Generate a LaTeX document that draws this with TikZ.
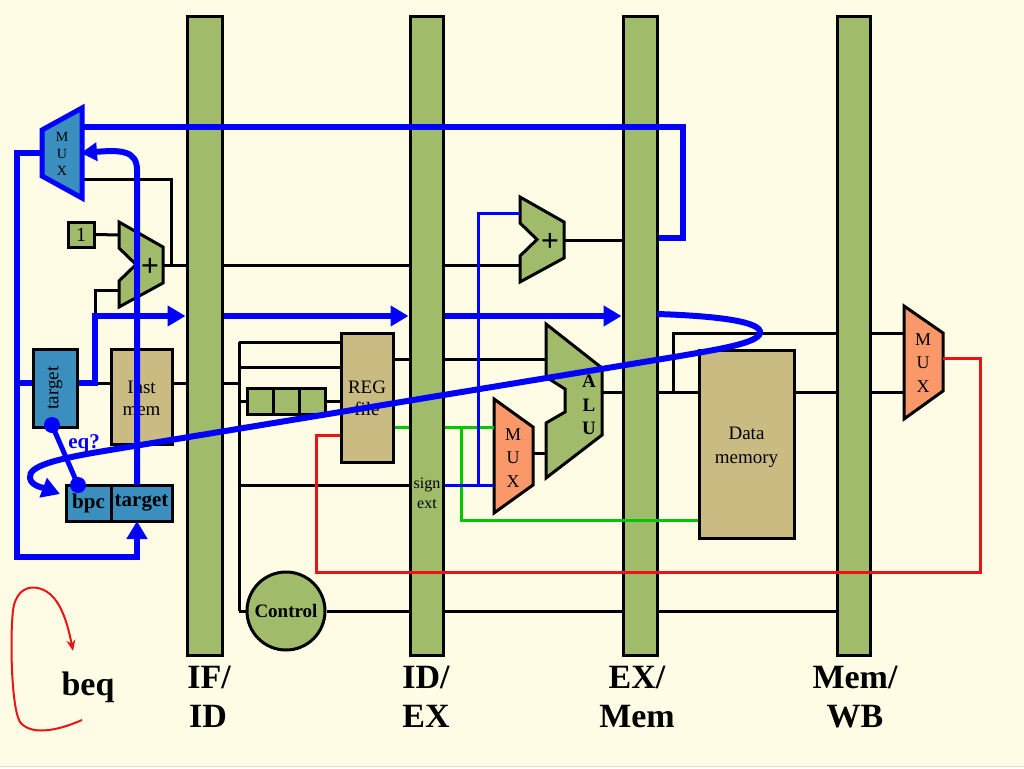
\documentclass[tikz,border=0pt]{standalone}
\usepackage{fontspec}
\setmainfont{Liberation Serif}
\usetikzlibrary{arrows.meta,calc}
\definecolor{bgc}{RGB}{255,252,230}
\definecolor{bargreen}{RGB}{160,187,106}
\definecolor{tanc}{RGB}{201,187,130}
\definecolor{boxblue}{RGB}{58,143,190}
\definecolor{orangec}{RGB}{250,152,105}
\definecolor{wgreen}{RGB}{0,200,0}
\definecolor{wred}{RGB}{235,20,20}
\definecolor{wblue}{RGB}{0,0,255}
\newcommand\myfs[2]{\fontsize{#1}{#2}\selectfont}
\begin{document}
\begin{tikzpicture}[x=1pt,y=-1pt,
  wire/.style={draw=black,line width=3pt},
  bthick/.style={draw=wblue,line width=6pt},
  bthin/.style={draw=wblue,line width=3pt},
  gwire/.style={draw=wgreen,line width=3pt},
  rwire/.style={draw=wred,line width=3pt},
  regbar/.style={draw=black,line width=3pt,fill=bargreen,minimum height=638pt,inner sep=0pt},
  blk/.style={draw=black,line width=3pt,inner sep=0pt},
  parr/.style={-{Triangle[length=18pt,width=20pt]}},
  unit/.style={draw=black,line width=3pt,line join=miter},
  lbl/.style={font=\bfseries\myfs{34}{38},anchor=base},
  txt/.style={font=\myfs{19}{22},align=center},
  muxt/.style={font=\myfs{18}{23.5},align=center},
  plus/.style={font=\bfseries\myfs{32}{32}},
  dotc/.style={circle,fill=wblue,minimum size=16pt,inner sep=0pt}]
\path[use as bounding box,fill=bgc] (0,0) rectangle (1024,768);
\draw[draw=black!12,line width=1pt] (0,766.5) -- (1024,766.5);

% ---------- ports and junctions ----------
\coordinate (a1in1) at (119,235);
\coordinate (a1in2) at (119,290);
\coordinate (a1out) at (163,265);
\coordinate (a2in1) at (520,213);
\coordinate (a2in2) at (520,265);
\coordinate (a2out) at (564,240);
\coordinate (aluin1) at (546,359);
\coordinate (aluin2) at (546,453);
\coordinate (aluout) at (602,392);
\coordinate (emin1) at (494,427);
\coordinate (emin2) at (494,485);
\coordinate (emout) at (533,453);
\coordinate (wbin1) at (904,333);
\coordinate (wbin2) at (904,392);
\coordinate (wbout) at (943,358);
\coordinate (tmin1) at (82,127);
\coordinate (tmin2) at (81,153);
\coordinate (tmin3) at (82,179);
\coordinate (tmout) at (42,153);
\coordinate (pc) at (95,383);
\coordinate (pcup) at (95,316);
\coordinate (pcadd) at (95,290);
\coordinate (j1) at (171,265);
\coordinate (j1t) at (171,179);
\coordinate (bus) at (239,383);
\coordinate (bt) at (239,342);
\coordinate (b2) at (239,367);
\coordinate (b3) at (239,401);
\coordinate (b4) at (239,485);
\coordinate (bb) at (239,611);
\coordinate (byp) at (673,392);
\coordinate (byt) at (673,333);
\coordinate (g1) at (461,427);
\coordinate (g2) at (461,520);
\coordinate (bj) at (478,485);
\coordinate (bj2) at (478,213);
\coordinate (r1) at (980,358);
\coordinate (r2) at (980,572);
\coordinate (r3) at (316,572);
\coordinate (r4) at (316,435);
\coordinate (lp1) at (683,238);
\coordinate (lp2) at (683,127);
\coordinate (lb1) at (17,153);
\coordinate (lb2) at (17,557);
\coordinate (lb3) at (137,557);
\coordinate (lb4) at (17,383);
\coordinate (tgbot) at (137,521);
\coordinate (tgtop) at (137,485);
\coordinate (fc1) at (137,170);
\coordinate (cv0) at (657,314);
\coordinate (bpcarr) at (60,494);
\coordinate (be1) at (82,720);
\coordinate (be2) at (73,651);

% ---------- black wires ----------
\draw[wire] (pcup) -- (pcadd) -- (a1in2);
\draw[wire] (a1out) -- (a1out -| 187,0);
\draw[wire] (j1) -- (j1t) -- (tmin3);
\draw[wire] (bt) -- (bb);
\draw[wire] (bb) -- (247,611);

% ---------- pipeline registers ----------
\node[regbar,minimum width=35pt] (ifid) at (204.5,336) {};
\node[regbar,minimum width=33pt] (idex) at (426.5,336) {};
\node[regbar,minimum width=34pt] (exmem) at (640,336) {};
\node[regbar,minimum width=33pt] (memwb) at (853.5,336) {};

% ---------- boxes ----------
\node[blk,fill=bargreen,minimum width=26pt,minimum height=25pt,font=\myfs{20}{22}] (one) at (81,234.5) {1};
\node[blk,fill=boxblue,minimum width=44pt,minimum height=78pt] (tgt) at (55,388) {};
\node[rotate=90,font=\myfs{19}{22}] (tgtxt) at (55,388) {target};
\node[blk,fill=tanc,minimum width=61pt,minimum height=95pt] (imem) at (141.5,396.5) {};
\node[txt] (imemt) at (141.5,398) {Inst\\mem};
\node[blk,fill=boxblue,minimum width=45pt,minimum height=36pt,font=\bfseries\myfs{21}{22}] (bpc) at (88.5,503) {bpc};
\node[blk,fill=boxblue,minimum width=61pt,minimum height=36pt,font=\bfseries\myfs{21}{22}] (tgc) at (141.5,503) {target};
\node[blk,fill=tanc,minimum width=52pt,minimum height=129pt] (reg) at (367,397.5) {};
\node[txt] (regt) at (367,398) {REG\\file};
\node[blk,fill=bargreen,minimum width=26pt,minimum height=26pt] (sr1) at (260,401) {};
\node[blk,fill=bargreen,minimum width=26pt,minimum height=26pt] (sr2) at (286,401) {};
\node[blk,fill=bargreen,minimum width=26pt,minimum height=26pt] (sr3) at (312,401) {};
\node[blk,fill=tanc,minimum width=95pt,minimum height=188pt] (dmem) at (746.5,444) {};
\node[font=\myfs{19}{24},align=center] (dmemt) at (746.5,447) {Data\\memory};
\node[blk,circle,fill=bargreen,minimum size=78pt,font=\bfseries\myfs{19}{22}] (ctrl) at (286,611) {Control};
\node[font=\myfs{16}{20},align=center] (sext) at (427,493) {sign\\ext};

% ---------- adders, ALU, muxes ----------
\draw[unit,fill=bargreen] (119,222) -- (163,247) -- (163,283) -- (119,307) -- (119,281) -- (136,264.5) -- (119,248) -- cycle;
\node[plus] (p1) at (150,267) {+};
\draw[unit,fill=bargreen] (520,197) -- (564,222) -- (564,258) -- (520,282) -- (520,256) -- (537,239.5) -- (520,223) -- cycle;
\node[plus] (p2) at (550,242) {+};
\draw[unit,fill=bargreen] (546,324) -- (602,368) -- (602,435) -- (546,478) -- (546,423) -- (565,412) -- (565,389) -- (546,377) -- cycle;
\node[font=\bfseries\myfs{19}{23.5},align=center] (alut) at (589,405) {A\\L\\U};
\draw[unit,fill=orangec] (494,399) -- (533,427) -- (533,485) -- (494,513) -- cycle;
\node[muxt] (emt) at (513,458) {M\\U\\X};
\draw[unit,fill=orangec] (904,306) -- (943,333) -- (943,391) -- (904,419) -- cycle;
\node[muxt] (wbt) at (923,363) {M\\U\\X};
\draw[draw=wblue,line width=5pt,fill=boxblue] (42,130) -- (82,108) -- (82,198) -- (42,176) -- cycle;
\node[font=\myfs{14}{17},align=center] (tmt) at (62,154) {M\\U\\X};

% ---------- black wires between units ----------
\draw[wire] (one.east) -- (a1in1);
\draw[wire] (tgt.east |- pc) -- (imem.west |- pc);
\draw[wire] (imem.east |- pc) -- (ifid.west |- pc);
\draw[wire] (ifid.east |- a1out) -- (idex.west |- a1out);
\draw[wire] (idex.east |- a2in2) -- (a2in2);
\draw[wire] (ifid.east |- pc) -- (bus);
\draw[wire] (bt) -- (reg.west |- bt);
\draw[wire] (b2) -- (reg.west |- b2);
\draw[wire] (b3) -- (sr1.west);
\draw[wire] (sr3.east) -- (reg.west |- b3);
\draw[wire] (b4) -- (idex.west |- b4);
\draw[wire] (reg.east |- aluin1) -- (idex.west |- aluin1);
\draw[wire] (idex.east |- aluin1) -- (aluin1);
\draw[wire] (ctrl.east) -- (idex.west |- ctrl.east);
\draw[wire] (idex.east |- ctrl.east) -- (exmem.west |- ctrl.east);
\draw[wire] (exmem.east |- ctrl.east) -- (memwb.west |- ctrl.east);
\draw[wire] (a2out) -- (exmem.west |- a2out);
\draw[wire] (aluout) -- (exmem.west |- aluout);
\draw[wire] (exmem.east |- aluout) -- (dmem.west |- aluout);
\draw[wire] (byp) -- (byt) -- (memwb.west |- byt);
\draw[wire] (dmem.east |- aluout) -- (memwb.west |- aluout);
\draw[wire] (memwb.east |- wbin1) -- (wbin1);
\draw[wire] (memwb.east |- wbin2) -- (wbin2);
\draw[wire] (emout) -- (aluin2);

% ---------- green, thin blue, red ----------
\draw[gwire] (reg.east |- emin1) -- (idex.west |- emin1);
\draw[gwire] (idex.east |- emin1) -- (emin1);
\draw[gwire] (g1) -- (g2) -- (dmem.west |- g2);
\draw[bthin] (idex.east |- emin2) -- (emin2);
\draw[bthin] (bj) -- (bj2) -- (a2in1);
\draw[rwire] (wbout) -- (r1) -- (r2) -- (r3) -- (r4) -- (reg.west |- r4);

% ---------- thick blue (branch prediction) ----------
\draw[bthick] (exmem.east |- lp1) -- (lp1) -- (lp2) -- (tmin1);
\draw[bthick,parr] (tmout) -- (lb1) -- (lb2) -- (lb3) -- (tgbot);
\draw[bthick] (lb4) -- (tgt.west |- lb4);
\draw[bthick,parr] (tgt.east |- pc) -- (pc) -- (pcup) -- (ifid.west |- pcup);
\draw[bthick,parr] (ifid.east |- pcup) -- (idex.west |- pcup);
\draw[bthick,parr] (idex.east |- pcup) -- (exmem.west |- pcup);
\draw[bthick,-{Triangle[length=16pt,width=18pt]}] (tgtop) -- (fc1) .. controls (137,150) and (120,150) .. (tmin2);
\draw[bthick,parr] (cv0) .. controls (720,316) and (762,322) .. (760,333) .. controls (758,343) and (720,349) .. (680,356) -- (110,450) .. controls (55,459) and (28,466) .. (30,478) .. controls (31,486) and (44,488) .. (bpcarr);
\node[dotc] (dot1) at (52,425) {};
\node[dotc] (dot2) at (78,485) {};
\draw[bthick,line width=5pt] (dot1.center) -- (dot2.center);
\node[font=\bfseries\myfs{21}{22},text=wblue] (eq) at (84,444) {eq?};

% ---------- labels ----------
\node[lbl] (l1a) at (209,688) {IF/};
\node[lbl] (l1b) at (208,727) {ID};
\node[lbl] (l2a) at (426,688) {ID/};
\node[lbl] (l2b) at (426,727) {EX};
\node[lbl] (l3a) at (637,688) {EX/};
\node[lbl] (l3b) at (637,727) {Mem};
\node[lbl] (l4a) at (855,688) {Mem/};
\node[lbl] (l4b) at (855,727) {WB};
\node[lbl] (beq) at (88,695) {beq};
\draw[draw=wred,line width=2pt,-{Stealth[length=11pt,width=9pt]}] (be1) .. controls (55,732) and (30,735) .. (20,722) .. controls (10,705) and (10,620) .. (14,605) .. controls (18,590) and (28,586) .. (38,588) .. controls (55,592) and (65,610) .. (be2);
\end{tikzpicture}
\end{document}
